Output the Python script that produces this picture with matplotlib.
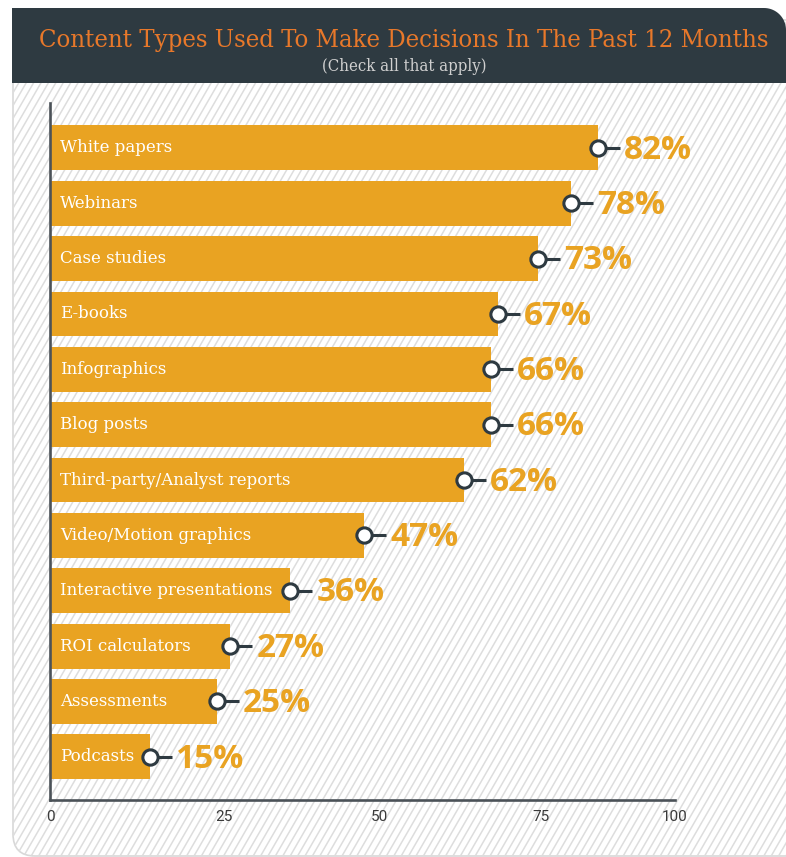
import numpy as np
import matplotlib
matplotlib.use("Agg")
import matplotlib.pyplot as plt
from matplotlib.patches import FancyBboxPatch, PathPatch
from matplotlib.path import Path
from matplotlib.collections import LineCollection

categories = [
    "White papers", "Webinars", "Case studies", "E-books", "Infographics",
    "Blog posts", "Third-party/Analyst reports", "Video/Motion graphics",
    "Interactive presentations", "ROI calculators", "Assessments", "Podcasts",
]
values = [82, 78, 73, 67, 66, 66, 62, 47, 36, 27, 25, 15]
tick_labels = ["0", "25", "50", "75", "100"]
# where the original draws its axis labels (not evenly spaced in the source)
tick_pos = [0, 26, 49.3, 73.5, 93.5]

title = "Content Types Used To Make Decisions In The Past 12 Months"
subtitle = "(Check all that apply)"

BAR = "#E9A322"
DARK = "#2E3A41"
TITLE_ORANGE = "#E8782A"
W, H = 786, 857
PX100 = 668  # pixel length of 100 %

fig = plt.figure(figsize=(W / 100, H / 100), dpi=100)

# background layer in pixel coordinates
bg = fig.add_axes([0, 0, 1, 1], zorder=0)
bg.set_xlim(0, W)
bg.set_ylim(H, 0)
bg.axis("off")

card = FancyBboxPatch((13, 20), 840, 836, boxstyle="round,pad=0,rounding_size=22",
                      facecolor="white", edgecolor="#d8d8d8", lw=1.2, zorder=1)
bg.add_patch(card)

# diagonal hatching inside the card
slope = np.tan(np.radians(60))
x0s = np.arange(-H / slope, W + 10, 7.4)
segs = [[(x, H), (x + H / slope, 0)] for x in x0s]
hatch = LineCollection(segs, colors="#dddddd", linewidths=1.1, zorder=2)
hatch.set_clip_path(card)
bg.add_collection(hatch)

# header band with rounded top-right corner
r = 22
x1, x2, y1, y2 = 12, 786, 8, 83
t = np.linspace(np.pi / 2, 0, 20)
arc = [(x2 - r + r * np.cos(a), y1 + r - r * np.sin(a)) for a in t]
verts = [(x1, y2), (x1, y1)] + arc + [(x2, y2), (x1, y2)]
codes = [Path.MOVETO] + [Path.LINETO] * (len(verts) - 2) + [Path.CLOSEPOLY]
bg.add_patch(PathPatch(Path(verts, codes), facecolor=DARK, edgecolor="none", zorder=3))

tt = bg.text(404, 40, title, ha="center", va="center", color=TITLE_ORANGE,
             fontsize=20, family="DejaVu Serif", fontstretch="condensed", zorder=4)
# fit title width to the original (~728 px)
fig.canvas.draw()
wpx = tt.get_window_extent().width
tt.set_fontsize(20 * 728 / wpx)
bg.text(404, 66, subtitle, ha="center", va="center", color="#d0d0d0",
        fontsize=12, family="DejaVu Serif", fontstretch="condensed", zorder=4)

# main chart
ax = fig.add_axes([50 / W, 1 - 800 / H, PX100 / W, 697 / H], zorder=5)
ax.set_facecolor("none")
ypos = np.arange(len(categories))
ax.barh(ypos, values, height=0.81, color=BAR, zorder=2)
ax.set_xlim(0, 100)
ax.set_ylim(len(categories) - 0.22, -0.81)

u = 100 / PX100  # data units per pixel
for y, v, name in zip(ypos, values, categories):
    ax.text(10 * u, y, name, ha="left", va="center", color="white",
            fontsize=12, family="DejaVu Serif", zorder=3)
    ax.plot([v, v + 22 * u], [y, y], color=DARK, lw=2.2, zorder=3, solid_capstyle="butt")
    ax.plot(v, y, "o", ms=11, mfc="white", mec=DARK, mew=2.2, zorder=4)
    ax.text(v + 26 * u, y + 0.04, f"{v}%", ha="left", va="center", color=BAR,
            fontsize=24, fontweight="bold", family="Open Sans", zorder=4)

for s in ["top", "right"]:
    ax.spines[s].set_visible(False)
for s in ["left", "bottom"]:
    ax.spines[s].set_color("#4b5258")
    ax.spines[s].set_linewidth(1.9)
ax.spines["bottom"].set_bounds(0, 625 * u)
ax.set_yticks([])
ax.set_xticks(tick_pos)
ax.set_xticklabels(tick_labels, family="Roboto", fontsize=11, color="#3a3a3a")
ax.tick_params(axis="x", length=0, pad=7)

fig.savefig("out.png", dpi=100)
